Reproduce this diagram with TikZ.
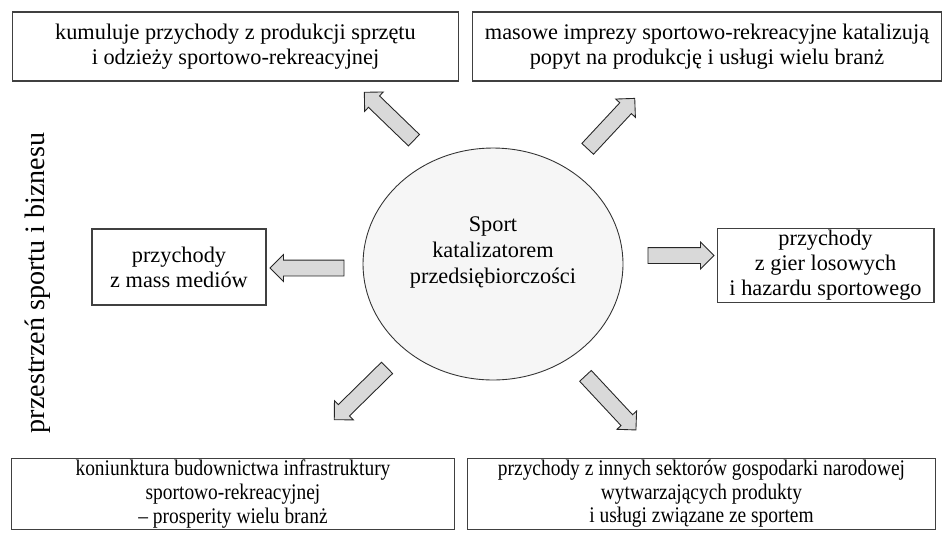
\documentclass[tikz,border=0pt]{standalone}
\usepackage{fontspec}
\setmainfont{Liberation Serif}
\newfontfamily\narrowserif[FakeStretch=0.87, Ligatures=TeX]{Liberation Serif}
\usetikzlibrary{shapes.geometric, shapes.arrows, positioning}

\begin{document}
\begin{tikzpicture}[
  x=0.02cm, y=-0.02cm,
  hub/.style={ellipse, draw=black!80, fill=gray!7, line width=0.5pt, minimum width=5.2cm, minimum height=4.64cm},
  box/.style={rectangle, draw=black!75, fill=white, line width=0.6pt, align=center, inner sep=1pt, font=\fontsize{12.7}{14.2}\selectfont},
  lowbox/.style={box, font=\narrowserif\fontsize{12.7}{13.4}\selectfont},
  blockarrow/.style={single arrow, draw=black!85, fill=gray!30, line width=0.5pt, inner sep=0.15cm, minimum width=0pt, single arrow head extend=0.11cm}
]
  \useasboundingbox (0,0) rectangle (946,532);
  % Center
  \node[hub] (hub) at (493,264) {};
  \node[align=center, font=\fontsize{12.7}{14.8}\selectfont] (hubtext) at (493,252) {Sport\\ katalizatorem\\ przedsiębiorczości};
  % Side label
  \node[rotate=90, font=\fontsize{16}{18}\selectfont] (space) at (38,283) {przestrzeń sportu i biznesu};
  % Boxes
  \node[box, minimum width=8.94cm, minimum height=1.38cm] (equip) at (235.5,46.5) {kumuluje przychody z produkcji sprzętu\\ i odzieży sportowo-rekreacyjnej};
  \node[box, minimum width=9.4cm, minimum height=1.38cm] (events) at (707,46.5) {masowe imprezy sportowo-rekreacyjne katalizują\\ popyt na produkcję i usługi wielu branż};
  \node[box, minimum width=3.48cm, minimum height=1.52cm] (media) at (179,267) {przychody\\ z mass mediów};
  \node[box, minimum width=4.34cm, minimum height=1.42cm] (games) at (825.5,265.5) {przychody\\ z gier losowych\\ i hazardu sportowego};
  \node[lowbox, minimum width=8.88cm, minimum height=1.34cm] (build) at (233,494) {koniunktura budownictwa infrastruktury\\ sportowo-rekreacyjnej\\ – prosperity wielu branż};
  \node[lowbox, minimum width=9.38cm, minimum height=1.34cm] (sectors) at (701.5,494) {przychody z innych sektorów gospodarki narodowej\\ wytwarzających produkty\\ i usługi związane ze sportem};
  % Arrows
  \node[blockarrow, minimum height=1.38cm, rotate=136] (toequip) at (392,119) {};
  \node[blockarrow, minimum height=1.38cm, rotate=47] (toevents) at (608.5,126.5) {};
  \node[blockarrow, minimum height=1.48cm, rotate=180] (tomedia) at (311,268) {};
  \node[blockarrow, minimum height=1.32cm] (togames) at (677,255.5) {};
  \node[blockarrow, minimum height=1.48cm, rotate=224.5] (tobuild) at (363.5,391) {};
  \node[blockarrow, minimum height=1.48cm, rotate=-47] (tosectors) at (608,400) {};
\end{tikzpicture}
\end{document}
